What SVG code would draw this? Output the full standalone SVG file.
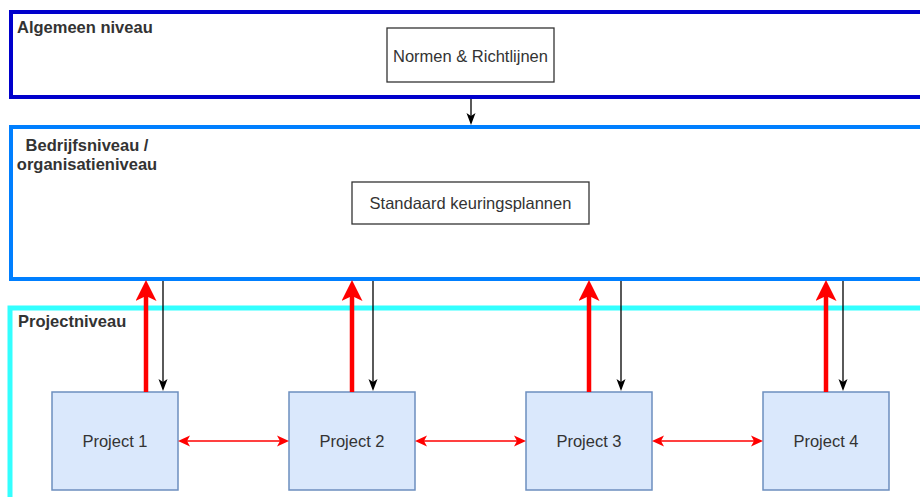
<svg xmlns="http://www.w3.org/2000/svg" width="920" height="497" viewBox="0 0 920 497">
  <style>
    .lvl { fill: #ffffff; }
    .title { font-family: "Liberation Sans", Arial, sans-serif; font-size: 16.5px; font-weight: bold; fill: #333333; }
    .lbl { font-family: "Liberation Sans", Arial, sans-serif; font-size: 16.5px; fill: #333333; text-anchor: middle; }
    .box { fill: #ffffff; stroke: #333333; stroke-width: 1.3; }
    .proj { fill: #dae8fc; stroke: #6c8ebf; stroke-width: 1.5; }
    .up { fill: none; stroke: #ff0000; stroke-width: 4.5; marker-end: url(#headRedBig); }
    .down { fill: none; stroke: #000000; stroke-width: 1.3; marker-end: url(#headBlack); }
    .link { fill: none; stroke: #ff0000; stroke-width: 1.5; marker-start: url(#headRed); marker-end: url(#headRed); }
  </style>
  <defs>
    <marker id="headRedBig" markerUnits="userSpaceOnUse" viewBox="0 0 21 21" markerWidth="21" markerHeight="21" refX="5" refY="10.5" orient="auto">
      <path d="M21,10.5 L0,0 L5,10.5 L0,21 Z" fill="#ff0000"/>
    </marker>
    <marker id="headBlack" markerUnits="userSpaceOnUse" viewBox="0 0 12 10" markerWidth="12" markerHeight="10" refX="3" refY="5" orient="auto">
      <path d="M12,5 L0,0.5 L3,5 L0,9.5 Z" fill="#000000"/>
    </marker>
    <marker id="headRed" markerUnits="userSpaceOnUse" viewBox="0 0 12 12" markerWidth="12" markerHeight="12" refX="3" refY="6" orient="auto-start-reverse">
      <path d="M12,6 L0,0.5 L3,6 L0,11.5 Z" fill="#ff0000"/>
    </marker>
  </defs>

  <rect width="920" height="497" fill="#ffffff"/>

  <!-- level containers -->
  <g id="algemeen-niveau">
    <rect class="lvl" x="11" y="12" width="920" height="85" stroke="#0000cc" stroke-width="4"/>
    <text class="title" x="17" y="32.5">Algemeen niveau</text>
  </g>
  <g id="bedrijfsniveau">
    <rect class="lvl" x="11" y="127" width="920" height="152" stroke="#007fff" stroke-width="4"/>
    <text class="title" x="87" y="151" text-anchor="middle">Bedrijfsniveau /</text>
    <text class="title" x="87" y="170" text-anchor="middle">organisatieniveau</text>
  </g>
  <g id="projectniveau">
    <rect class="lvl" x="10" y="308" width="920" height="220" stroke="#33ffff" stroke-width="5"/>
    <text class="title" x="18" y="327">Projectniveau</text>
  </g>

  <!-- nodes -->
  <g id="normen">
    <rect class="box" x="387" y="28" width="167" height="54"/>
    <text class="lbl" x="470.5" y="61.5">Normen &amp; Richtlijnen</text>
  </g>
  <g id="keuringsplannen">
    <rect class="box" x="352" y="182" width="237" height="42"/>
    <text class="lbl" x="470.5" y="209">Standaard keuringsplannen</text>
  </g>
  <g id="project-1">
    <rect class="proj" x="52" y="392" width="126" height="98"/>
    <text class="lbl" x="115" y="447">Project 1</text>
  </g>
  <g id="project-2">
    <rect class="proj" x="289" y="392" width="126" height="98"/>
    <text class="lbl" x="352" y="447">Project 2</text>
  </g>
  <g id="project-3">
    <rect class="proj" x="526" y="392" width="126" height="98"/>
    <text class="lbl" x="589" y="447">Project 3</text>
  </g>
  <g id="project-4">
    <rect class="proj" x="763" y="392" width="126" height="98"/>
    <text class="lbl" x="826" y="447">Project 4</text>
  </g>

  <!-- connectors -->
  <g id="connectors">
    <path class="down" d="M471,99 L471,116"/>

    <path class="up" d="M146,392 L146,296"/>
    <path class="up" d="M352,392 L352,296"/>
    <path class="up" d="M589,392 L589,296"/>
    <path class="up" d="M826,392 L826,296"/>

    <path class="down" d="M163,281 L163,382"/>
    <path class="down" d="M373,281 L373,382"/>
    <path class="down" d="M621,281 L621,382"/>
    <path class="down" d="M843,281 L843,382"/>

    <path class="link" d="M187,441 L280,441"/>
    <path class="link" d="M424,441 L517,441"/>
    <path class="link" d="M661,441 L754,441"/>
  </g>
</svg>
